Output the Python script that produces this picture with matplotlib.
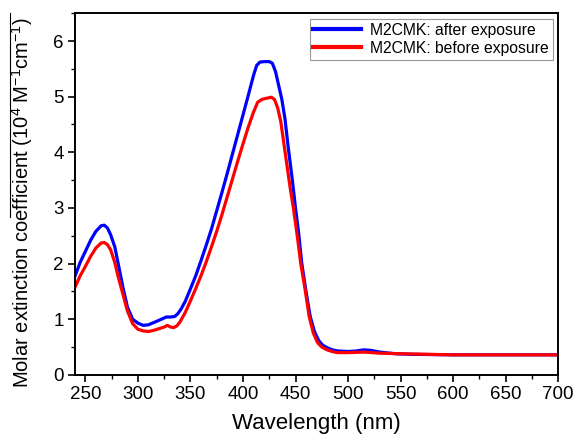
import numpy as np
import matplotlib
matplotlib.use('Agg')
import matplotlib.pyplot as plt
from matplotlib.lines import Line2D
from matplotlib.ticker import MultipleLocator

plt.rcParams['font.family'] = ['Liberation Sans', 'DejaVu Sans']
plt.rcParams['mathtext.fontset'] = 'custom'
plt.rcParams['mathtext.rm'] = 'Liberation Sans'

# wavelength (nm) and extinction coefficient (1e4 M^-1 cm^-1)
wl_after = [240, 245, 250, 255, 260, 265, 268, 271, 274, 278, 281, 286, 290, 295, 300, 305,
            310, 315, 320, 327, 331, 335, 338, 341, 345, 349, 355, 360, 365, 370, 375,
            380, 385, 390, 395, 400, 405, 410, 413, 416, 420, 425, 428, 431, 434, 437,
            440, 443, 447, 450, 453, 456, 460, 464, 468, 472, 476, 480, 485, 490, 500,
            508, 515, 522, 530, 545, 560, 600, 650, 700]
eps_after = [1.77, 2.02, 2.22, 2.42, 2.58, 2.68, 2.69, 2.64, 2.52, 2.30, 2.02, 1.55, 1.22, 1.00, 0.93, 0.89,
             0.90, 0.94, 0.98, 1.04, 1.04, 1.05, 1.10, 1.18, 1.32, 1.50, 1.78, 2.05, 2.33, 2.62, 2.95,
             3.28, 3.62, 3.97, 4.32, 4.67, 5.02, 5.38, 5.56, 5.62, 5.63, 5.63, 5.60, 5.45, 5.20, 4.95,
             4.60, 4.10, 3.50, 3.00, 2.55, 2.00, 1.50, 1.05, 0.78, 0.62, 0.53, 0.49, 0.45, 0.43, 0.42,
             0.43, 0.45, 0.44, 0.41, 0.38, 0.37, 0.36, 0.36, 0.36]

wl_before = [240, 245, 250, 255, 260, 265, 268, 271, 274, 278, 281, 285, 290, 295, 300, 305,
             310, 315, 320, 325, 328, 331, 334, 337, 340, 345, 350, 355, 360, 365, 370,
             375, 380, 385, 390, 395, 400, 405, 410, 414, 418, 422, 427, 430, 433,
             436, 439, 442, 445, 448, 452, 455, 459, 463, 467, 471, 475, 480, 485, 490,
             500, 515, 530, 550, 600, 650, 700]
eps_before = [1.57, 1.78, 1.95, 2.13, 2.28, 2.37, 2.38, 2.34, 2.25, 2.02, 1.78, 1.50, 1.15, 0.92, 0.82, 0.79,
              0.78, 0.80, 0.83, 0.86, 0.89, 0.86, 0.85, 0.88, 0.95, 1.12, 1.33, 1.55, 1.78, 2.03, 2.30,
              2.58, 2.88, 3.20, 3.52, 3.84, 4.15, 4.45, 4.72, 4.90, 4.95, 4.97, 4.99, 4.95, 4.80,
              4.55, 4.15, 3.75, 3.35, 3.00, 2.45, 2.00, 1.55, 1.05, 0.75, 0.58, 0.50, 0.45, 0.42, 0.40,
              0.40, 0.41, 0.39, 0.38, 0.36, 0.36, 0.36]

fig = plt.figure(figsize=(5.76, 4.4), dpi=100)
ax = fig.add_axes([0.130, 0.148, 0.839, 0.822])

ax.plot(wl_after, eps_after, color='#0000ff', lw=2.3, label='M2CMK: after exposure')
ax.plot(wl_before, eps_before, color='#ff0000', lw=2.3, label='M2CMK: before exposure')

ax.set_xlim(240, 700)
ax.set_ylim(0, 6.5)
ax.xaxis.set_major_locator(MultipleLocator(50))
ax.xaxis.set_minor_locator(MultipleLocator(25))
ax.yaxis.set_major_locator(MultipleLocator(1))
ax.yaxis.set_minor_locator(MultipleLocator(0.5))
ax.tick_params(which='major', direction='out', length=5, width=1.2, labelsize=13.5, pad=3)
ax.tick_params(which='minor', direction='out', length=3, width=1.0)
for s in ax.spines.values():
    s.set_linewidth(1.4)

ax.set_xlabel('Wavelength (nm)', fontsize=16, labelpad=7)
ax.set_ylabel(r'Molar extinction coefficient (10$^{\mathregular{4}}$ M$^{\mathregular{-1}}$cm$^{\mathregular{-1}}$)',
              fontsize=14.5)
ax.yaxis.set_label_coords(-0.082, 0.475)

leg = ax.legend(loc='upper right', fontsize=11.3, frameon=True, fancybox=False,
                handlelength=3.0, borderpad=0.25, labelspacing=0.2, handletextpad=0.6,
                borderaxespad=0.35)
leg.get_frame().set_edgecolor('#808080')
leg.get_frame().set_linewidth(0.8)
for h in leg.get_lines():
    h.set_linewidth(3)

# thin rule running alongside the y-axis title
fig.add_artist(Line2D([10 / 576, 10 / 576], [1 - 13 / 440, 1 - 217 / 440],
                      color='black', lw=0.8, transform=fig.transFigure))

fig.savefig('out.png', dpi=100)
